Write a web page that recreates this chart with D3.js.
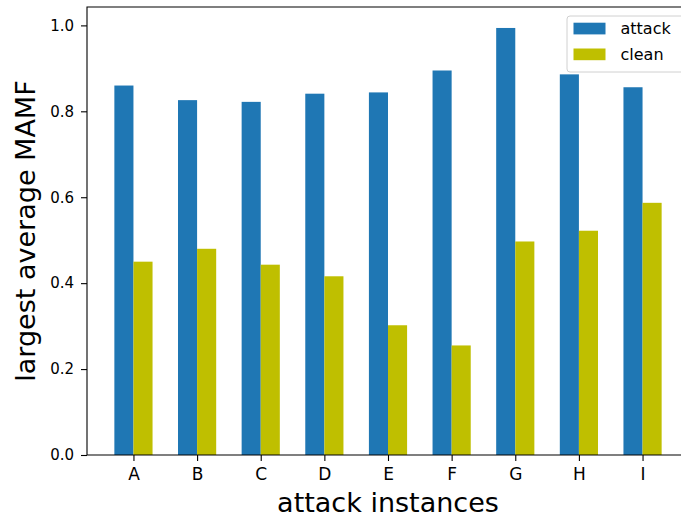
<!DOCTYPE html>
<html>
<head>
<meta charset="utf-8">
<script src="https://cdn.jsdelivr.net/npm/d3@7"></script>
<style>
  html, body { margin: 0; padding: 0; background: #fff; }
  svg { display: block; font-family: "DejaVu Sans", sans-serif; }
</style>
</head>
<body>
<svg id="chart" width="681" height="521"></svg>
<script>
const categories = ["A", "B", "C", "D", "E", "F", "G", "H", "I"];
const attackValues = [0.860, 0.826, 0.822, 0.841, 0.844, 0.895, 0.994, 0.886, 0.856];
const cleanValues = [0.450, 0.480, 0.443, 0.416, 0.302, 0.255, 0.497, 0.522, 0.587];
const seriesNames = ["attack", "clean"];
const seriesColors = ["#1f77b4", "#bfbf00"];
const yTicks = [0.0, 0.2, 0.4, 0.6, 0.8, 1.0];

(function () {
const svg = d3.select("#chart");
const pLeft = 87, pRight = 689, pTop = 7, pBottom = 455;
const barW = 0.3;

const x = d3.scaleLinear().domain([-0.73, categories.length - 1 + 0.73]).range([pLeft, pRight]);
const y = d3.scaleLinear().domain([0, 1.0428]).range([pBottom, pTop]);

const series = [attackValues, cleanValues];
series.forEach((vals, s) => {
  svg.append("g").selectAll("rect").data(vals).join("rect")
    .attr("x", (d, i) => x(i - barW + s * barW))
    .attr("width", x(barW) - x(0))
    .attr("y", d => y(d))
    .attr("height", d => y(0) - y(d))
    .attr("fill", seriesColors[s]);
});

// axes
const xAxis = d3.axisBottom(x).tickValues(d3.range(categories.length))
  .tickFormat(i => categories[i]).tickSize(6).tickPadding(7);
const gx = svg.append("g").attr("transform", `translate(0,${pBottom})`).call(xAxis);
gx.select(".domain").remove();
gx.selectAll(".tick line").attr("stroke", "#000").attr("stroke-width", 1.1);
gx.selectAll(".tick text").attr("font-size", 17).attr("fill", "#000")
  .attr("font-family", "DejaVu Sans");

const yAxis = d3.axisLeft(y).tickValues(yTicks).tickFormat(d3.format(".1f"))
  .tickSize(6).tickPadding(7);
const gy = svg.append("g").attr("transform", `translate(${pLeft},0)`).call(yAxis);
gy.select(".domain").remove();
gy.selectAll(".tick line").attr("stroke", "#000").attr("stroke-width", 1.1);
gy.selectAll(".tick text").attr("font-size", 15).attr("fill", "#000")
  .attr("font-family", "DejaVu Sans");

// spines
svg.append("path")
  .attr("d", `M${pRight},${pBottom}H${pLeft}V${pTop}H${pRight}Z`)
  .attr("fill", "none").attr("stroke", "#000").attr("stroke-width", 1.1);

// axis labels
svg.append("text").attr("x", 388).attr("y", 512)
  .attr("text-anchor", "middle").attr("font-size", 27).attr("fill", "#000")
  .text("attack instances");
svg.append("text").attr("transform", `translate(35,${(pTop + pBottom) / 2}) rotate(-90)`)
  .attr("text-anchor", "middle").attr("font-size", 27).attr("fill", "#000")
  .text("largest average MAMF");

// legend
const lg = svg.append("g");
lg.append("rect").attr("x", 567).attr("y", 16).attr("width", 118).attr("height", 56)
  .attr("rx", 3).attr("fill", "#fff").attr("fill-opacity", 0.8)
  .attr("stroke", "#d0d0d0").attr("stroke-width", 1);
seriesNames.forEach((n, i) => {
  lg.append("rect").attr("x", 573.5).attr("y", 22.7 + i * 25.8).attr("width", 32).attr("height", 11.7)
    .attr("fill", seriesColors[i]);
  lg.append("text").attr("x", 620.5).attr("y", 28.5 + i * 25.8).attr("dy", "0.36em")
    .attr("font-size", 16).attr("fill", "#000").text(n);
});
})();
</script>
</body>
</html>
